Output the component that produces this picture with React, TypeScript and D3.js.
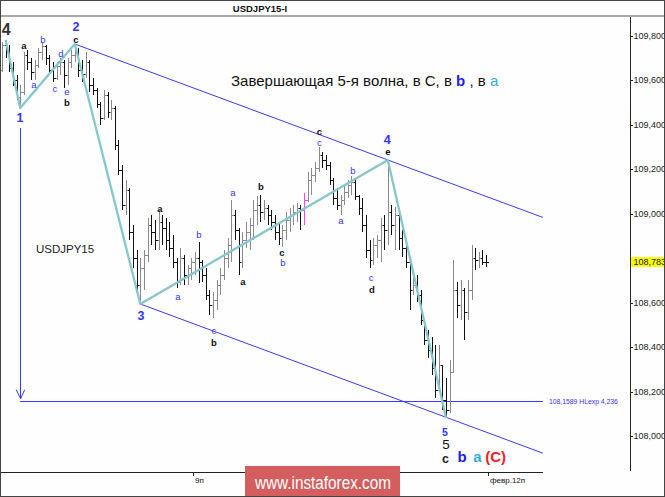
import React from "react";
import * as d3 from "d3";

// ---- OHLC bars (USDJPY M15) ----
const barOpen = [
  109.647,109.760,109.728,109.656,109.602,109.526,109.548,109.715,109.683,109.638,
  109.670,109.728,109.755,109.701,109.647,109.611,109.665,109.683,109.625,109.683,
  109.715,109.728,109.647,109.629,109.683,109.580,109.557,109.494,109.431,109.535,
  109.458,109.476,109.310,109.197,109.040,109.107,108.918,108.801,108.680,108.756,
  108.815,108.950,108.918,108.882,108.963,108.936,108.882,108.846,108.783,108.693,
  108.801,108.725,108.756,108.783,108.801,108.783,108.725,108.635,108.590,108.612,
  108.680,108.725,108.801,108.860,108.995,108.927,108.783,108.882,108.918,108.950,
  109.017,109.040,109.008,109.026,108.995,108.963,108.918,108.891,108.927,108.972,
  108.995,109.008,109.026,109.017,109.062,109.152,109.175,109.206,109.265,109.242,
  109.220,109.152,109.071,109.040,109.062,109.098,109.130,109.143,109.080,109.026,
  108.950,108.837,108.792,108.860,108.882,108.950,108.927,109.008,108.950,108.995,
  108.891,108.846,108.783,108.657,108.680,108.635,108.522,108.432,108.387,108.306,
  108.207,108.320,108.162,108.117,108.288,108.657,108.590,108.657,108.558,108.657,
  108.801,108.792,108.801,108.783,
];
const barHigh = [
  109.773,109.782,109.760,109.683,109.625,109.580,109.728,109.737,109.701,109.692,
  109.746,109.773,109.760,109.715,109.683,109.683,109.701,109.692,109.701,109.737,
  109.764,109.746,109.692,109.728,109.692,109.611,109.566,109.503,109.557,109.548,
  109.512,109.485,109.332,109.220,109.152,109.116,108.950,108.837,108.801,108.837,
  108.981,108.995,108.972,109.017,108.995,108.981,108.963,108.905,108.801,108.846,
  108.815,108.770,108.801,108.828,108.873,108.792,108.756,108.657,108.648,108.702,
  108.756,108.837,108.891,109.062,109.017,108.936,108.918,108.963,108.981,109.062,
  109.080,109.085,109.062,109.040,109.017,108.995,108.963,108.950,109.008,109.026,
  109.040,109.049,109.040,109.094,109.188,109.206,109.233,109.301,109.278,109.265,
  109.233,109.161,109.116,109.085,109.130,109.152,109.170,109.161,109.085,109.071,
  108.995,108.882,108.891,108.905,108.981,108.995,109.242,109.040,109.031,109.017,
  108.927,108.873,108.783,108.738,108.725,108.657,108.522,108.477,108.446,108.410,
  108.410,108.320,108.261,108.342,108.792,108.693,108.702,108.666,108.702,108.860,
  108.846,108.828,108.837,108.815,
];
const barLow = [
  109.638,109.701,109.638,109.575,109.512,109.476,109.535,109.647,109.602,109.602,
  109.656,109.692,109.670,109.625,109.593,109.602,109.625,109.566,109.580,109.656,
  109.683,109.616,109.593,109.611,109.548,109.535,109.476,109.400,109.422,109.431,
  109.422,109.287,109.175,109.017,108.995,108.882,108.756,108.635,108.594,108.657,
  108.783,108.860,108.837,108.837,108.860,108.837,108.806,108.756,108.666,108.680,
  108.680,108.680,108.702,108.725,108.689,108.693,108.612,108.545,108.531,108.567,
  108.635,108.702,108.756,108.783,108.882,108.725,108.756,108.846,108.837,108.882,
  108.950,108.963,108.972,108.950,108.927,108.882,108.860,108.851,108.882,108.918,
  108.950,108.963,108.927,108.950,109.053,109.085,109.143,109.188,109.206,109.197,
  109.130,109.040,109.017,108.995,109.040,109.071,109.085,109.062,108.995,108.918,
  108.801,108.756,108.770,108.801,108.783,108.837,108.860,108.905,108.837,108.837,
  108.806,108.756,108.567,108.635,108.603,108.500,108.410,108.351,108.275,108.171,
  108.198,108.117,108.081,108.104,108.288,108.531,108.522,108.432,108.522,108.612,
  108.747,108.756,108.770,108.761,
];
const barClose = [
  109.760,109.728,109.656,109.602,109.526,109.548,109.715,109.683,109.638,109.670,
  109.728,109.755,109.701,109.647,109.611,109.665,109.683,109.625,109.683,109.715,
  109.728,109.647,109.629,109.683,109.580,109.557,109.494,109.431,109.535,109.458,
  109.476,109.310,109.197,109.040,109.107,108.918,108.801,108.680,108.756,108.815,
  108.950,108.918,108.882,108.963,108.936,108.882,108.846,108.783,108.693,108.801,
  108.725,108.756,108.783,108.801,108.783,108.725,108.635,108.590,108.612,108.680,
  108.725,108.801,108.860,108.995,108.927,108.783,108.882,108.918,108.950,109.017,
  109.040,109.008,109.026,108.995,108.963,108.918,108.891,108.927,108.972,108.995,
  109.008,109.026,109.017,109.062,109.152,109.175,109.206,109.265,109.242,109.220,
  109.152,109.071,109.040,109.062,109.098,109.130,109.143,109.080,109.026,108.950,
  108.837,108.792,108.860,108.882,108.950,108.927,109.008,108.950,108.995,108.891,
  108.846,108.783,108.657,108.680,108.635,108.522,108.432,108.387,108.306,108.207,
  108.320,108.162,108.117,108.288,108.657,108.590,108.657,108.558,108.657,108.801,
  108.792,108.801,108.783,108.783,
];
const highlightBar = 83;

// ---- wave path (bar index, price) ----
const waveIdx = [1, 5, 20, 38, 106, 122];
const wavePrice = [109.782, 109.476, 109.764, 108.594, 109.242, 108.081];
const channelEnd = 148.6;

// target projection
const hlexpPrice = 108.1589;
const hlexpLabel = "108,1589 HLexp 4,236";
const arrowTopPrice = 109.386;
const arrowIdx = 5;

// price axis
const priceTicks = [108.0, 108.2, 108.4, 108.6, 108.8, 109.0, 109.2, 109.4, 109.6, 109.8];
const lastPrice = 108.783;

// time axis
const timeIdx = [52.5, 133.5];
const timeLabels = ["9п", "февр.12п"];

// wave labels: [bar index, price, text, style]
const labelIdx = [1.18, 6.04, 11.26, 8.79, 16.2, 14.56, 17.86, 17.86, 20.33, 20.33, 4.95,
  38.19, 43.4, 54.1, 48.35, 58.24, 58.24, 63.46, 66.2, 71.15, 76.9, 77.2,
  87.2, 87.2, 96.4, 93.1, 105.8, 106.0, 101.4, 101.6,
  121.7, 122.0, 121.8, 126.4, 130.6, 135.6];
const labelPrice = [109.805, 109.742, 109.768, 109.566, 109.706, 109.548, 109.533, 109.486, 109.823, 109.768, 109.413,
  108.522, 109.008, 108.891, 108.612, 108.460, 108.406, 109.080, 108.680, 109.107, 108.812, 108.766,
  109.356, 109.306, 109.179, 108.954, 109.316, 109.264, 108.698, 108.644,
  108.002, 107.941, 107.878, 107.885, 107.885, 107.885];
const labelText = ["4", "a", "b", "a", "d", "c", "e", "b", "2", "c", "1",
  "3", "a", "b", "a", "c", "b", "a", "a", "b", "c", "b",
  "c", "c", "b", "a", "4", "e", "c", "d",
  "5", "5", "c", "b", "a", "(C)"];
const labelStyle = ["big4", "sk", "sb", "sb", "sb", "sb", "sb", "sk", "wb", "sk", "wb",
  "wb", "sk", "sb", "sb", "sb", "sk", "sb", "sk", "sk", "sk", "sb",
  "sk", "sb", "sb", "sb", "wb", "sk", "sb", "sk",
  "wbs", "k5", "kc", "bb", "ca", "rc"];

const styles: Record<string, { size: number; weight: string; fill: string }> = {
  sb: { size: 9.5, weight: "normal", fill: "#3333ff" },
  sk: { size: 9.5, weight: "bold", fill: "#111" },
  wb: { size: 12.5, weight: "bold", fill: "#3333ff" },
  wbs: { size: 10.5, weight: "bold", fill: "#3333ff" },
  big4: { size: 16, weight: "bold", fill: "#333" },
  k5: { size: 13.5, weight: "normal", fill: "#111" },
  kc: { size: 12.5, weight: "bold", fill: "#222" },
  bb: { size: 15, weight: "bold", fill: "#2222ee" },
  ca: { size: 15, weight: "bold", fill: "#33aadd" },
  rc: { size: 15, weight: "bold", fill: "#ee2222" },
};

const W = 665;
const H = 497;
const FONT = "'Liberation Sans', Arial, sans-serif";

export default function App() {
  const x = d3.scaleLinear().domain([0, 133]).range([2, 2 + 3.64 * 133]);
  const y = d3.scaleLinear().domain([108, 109.8]).range([436, 36]);
  const fmt = (v: number) => d3.format(".3f")(v).replace(".", ",");

  const wavePts = waveIdx.map((d, i) => [x(d), y(wavePrice[i])] as [number, number]);
  const waveLine = d3.line()(wavePts) || "";

  // channel from wave 2 through wave 4, parallel through wave 3
  const slope = (wavePrice[4] - wavePrice[2]) / (waveIdx[4] - waveIdx[2]);
  const upEnd = wavePrice[4] + slope * (channelEnd - waveIdx[4]);
  const loEnd = wavePrice[3] + slope * (channelEnd - waveIdx[3]);

  const blue = "#3b3bff";
  const lastY = y(lastPrice);

  return (
    <svg width={W} height={H} style={{ position: "absolute", left: 0, top: 0, display: "block" }}
      fontFamily={FONT}>
      <rect x={0} y={0} width={W} height={H} fill="#fdfefd" />
      {/* title bar */}
      <line x1={0} x2={W} y1={16} y2={16} stroke="#a8a8a8" strokeWidth={2} />
      <text x={260} y={12} textAnchor="middle" fontSize={9.5} fontWeight="bold" fill="#111">USDJPY15-I</text>

      {/* main caption */}
      <text x={231} y={86} fontSize={15} fill="#111">
        Завершающая 5-я волна, в С, в <tspan fill="#2222ee" fontWeight="bold">b</tspan> , в <tspan fill="#33aadd">a</tspan>
      </text>
      <text x={36} y={253} fontSize={11.5} fill="#222">USDJPY15</text>

      {/* channel */}
      <line x1={x(waveIdx[2])} y1={y(wavePrice[2])} x2={x(channelEnd)} y2={y(upEnd)} stroke={blue} strokeWidth={1} />
      <line x1={x(waveIdx[3])} y1={y(wavePrice[3])} x2={x(channelEnd)} y2={y(loEnd)} stroke={blue} strokeWidth={1} />

      {/* HLexp level + arrow */}
      <line x1={x(arrowIdx)} x2={x(channelEnd)} y1={Math.round(y(hlexpPrice)) + 0.5} y2={Math.round(y(hlexpPrice)) + 0.5} stroke={blue} strokeWidth={1} />
      <line x1={Math.round(x(arrowIdx)) + 0.5} x2={Math.round(x(arrowIdx)) + 0.5} y1={y(arrowTopPrice)} y2={y(hlexpPrice) - 2} stroke={blue} strokeWidth={1} />
      <path d={`M${x(arrowIdx) - 4},${y(hlexpPrice) - 11} L${x(arrowIdx) + 0.5},${y(hlexpPrice) - 2} L${x(arrowIdx) + 4.5},${y(hlexpPrice) - 11}`} fill="none" stroke={blue} strokeWidth={1} />
      <text x={x(channelEnd) + 6} y={y(hlexpPrice) + 3} fontSize={8} fill="#3333ff" textLength={69} lengthAdjust="spacingAndGlyphs">{hlexpLabel}</text>

      {/* bars */}
      <g shapeRendering="crispEdges">
        {barOpen.map((o, i) => {
          const cx = Math.round(x(i)) + 0.5;
          const c = barClose[i];
          const col = i === highlightBar ? "#ff44ff" : c > o ? "#8a8a8a" : "#111";
          return (
            <g key={i} stroke={col} strokeWidth={1}>
              <line x1={cx} x2={cx} y1={y(barHigh[i])} y2={y(barLow[i])} />
              <line x1={cx - 2} x2={cx} y1={Math.round(y(o)) + 0.5} y2={Math.round(y(o)) + 0.5} />
              <line x1={cx} x2={cx + 2} y1={Math.round(y(c)) + 0.5} y2={Math.round(y(c)) + 0.5} />
            </g>
          );
        })}
      </g>

      {/* wave path */}
      <path d={waveLine} fill="none" stroke="#86c6cc" strokeWidth={2.3} strokeLinejoin="round" />

      {/* labels */}
      {labelText.map((t, i) => {
        const s = styles[labelStyle[i]];
        return (
          <text key={i} x={x(labelIdx[i])} y={y(labelPrice[i])} textAnchor="middle" fontSize={s.size}
            fontWeight={s.weight} fill={s.fill}>{t}</text>
        );
      })}

      {/* price axis */}
      <line x1={630.5} x2={630.5} y1={17} y2={471} stroke="#222" />
      {priceTicks.map((p) => (
        <g key={p}>
          <line x1={630} x2={633} y1={Math.round(y(p)) + 0.5} y2={Math.round(y(p)) + 0.5} stroke="#222" />
          {Math.abs(y(p) - lastY) > 10 && (
            <text x={633.5} y={y(p) + 3} fontSize={9} fill="#222">{fmt(p)}</text>
          )}
        </g>
      ))}
      <rect x={631} y={lastY - 5} width={34} height={10} fill="#ffff00" />
      <text x={633.5} y={lastY + 3} fontSize={9} fill="#111">{fmt(lastPrice)}</text>

      {/* time axis */}
      <line x1={0} x2={543} y1={472.5} y2={472.5} stroke="#222" />
      {timeIdx.map((ti, i) => (
        <g key={i}>
          <line x1={Math.round(x(ti)) + 0.5} x2={Math.round(x(ti)) + 0.5} y1={472} y2={476} stroke="#222" />
          <text x={x(ti) + 2} y={483} fontSize={8} fill="#111">{timeLabels[i]}</text>
        </g>
      ))}

      {/* watermark */}
      <rect x={245} y={466} width={155} height={31} fill="#d45e5e" />
      <text x={255} y={489} fontSize={18} fill="#ffffff" textLength={136} lengthAdjust="spacingAndGlyphs">www.instaforex.com</text>

      {/* frame */}
      <rect x={0.5} y={0.5} width={W - 1} height={H - 1} fill="none" stroke="#444" />
    </svg>
  );
}
